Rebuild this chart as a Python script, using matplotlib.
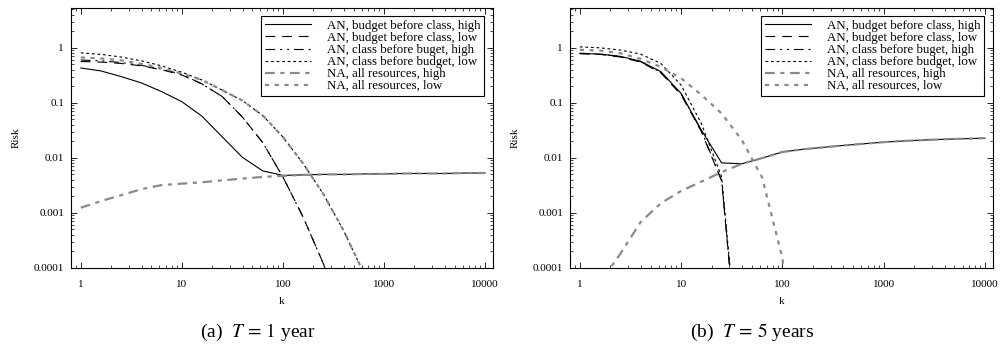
import matplotlib
matplotlib.use("Agg")
import matplotlib.pyplot as plt
import numpy as np

plt.rcParams['font.family'] = ['Liberation Serif', 'DejaVu Serif']
plt.rcParams['mathtext.fontset'] = 'stix'
plt.rcParams['lines.scale_dashes'] = False

nan = np.nan

# sample points (5 per decade)
k = [1, 1.585, 2.512, 3.981, 6.31, 10, 15.85, 25.12, 39.81, 63.1, 100,
     158.5, 251.2, 398.1, 631, 1000, 1585, 2512, 3981, 6310, 10000]

labels = ["AN, budget before class, high", "AN, budget before class, low",
          "AN, class before buget, high", "AN, class before budget, low",
          "NA, all resources, high", "NA, all resources, low"]

# (a) T = 1 year
a_budget_high = [0.43, 0.38, 0.30, 0.23, 0.16, 0.105, 0.057, 0.024, 0.0102, 0.0058, 0.0048,
                 0.0049, 0.0050, 0.0050, 0.0051, 0.0051, 0.0052, 0.0052, 0.0052, 0.0053, 0.0053]
a_budget_low = [0.565, 0.55, 0.52, 0.47, 0.40, 0.32, 0.22, 0.13, 0.055, 0.019, 0.0045,
                0.00084, 0.00012, 0.00001, nan, nan, nan, nan, nan, nan, nan]
a_class_high = [0.60, 0.58, 0.54, 0.48, 0.41, 0.33, 0.22, 0.13, 0.055, 0.019, 0.0045,
                0.00084, 0.00012, 0.00001, nan, nan, nan, nan, nan, nan, nan]
a_class_low = [0.81, 0.76, 0.68, 0.58, 0.47, 0.36, 0.26, 0.17, 0.11, 0.059, 0.024,
               0.0079, 0.0022, 0.00048, 0.00008, nan, nan, nan, nan, nan, nan]
a_na_high = [0.00124, 0.00164, 0.0021, 0.0027, 0.0032, 0.0034, 0.0036, 0.0039, 0.0042, 0.0045, 0.0047,
             0.0049, 0.0050, 0.0050, 0.0051, 0.0051, 0.0052, 0.0052, 0.0052, 0.0053, 0.0053]
a_na_low = [0.67, 0.64, 0.59, 0.51, 0.43, 0.34, 0.26, 0.17, 0.11, 0.059, 0.024,
            0.0079, 0.0022, 0.00048, 0.00008, nan, nan, nan, nan, nan, nan]

# (b) T = 5 years
b_budget_high = [0.79, 0.77, 0.70, 0.57, 0.37, 0.148, 0.032, 0.0081, 0.0078, 0.0099, 0.0128,
                 0.0143, 0.0155, 0.0168, 0.018, 0.0193, 0.0203, 0.0211, 0.0218, 0.0223, 0.0228]
b_budget_low = [0.78, 0.76, 0.68, 0.55, 0.35, 0.14, 0.030, 0.0038, 4e-7,
                nan, nan, nan, nan, nan, nan, nan, nan, nan, nan, nan, nan]
b_class_high = [0.80, 0.77, 0.69, 0.56, 0.36, 0.145, 0.031, 0.0039, 4e-7,
                nan, nan, nan, nan, nan, nan, nan, nan, nan, nan, nan, nan]
b_class_low = [1.04, 1.0, 0.91, 0.77, 0.52, 0.21, 0.042, 0.0045, 5e-7,
               nan, nan, nan, nan, nan, nan, nan, nan, nan, nan, nan, nan]
b_na_high = [1e-5, 5.5e-5, 0.00018, 0.00068, 0.0015, 0.0025, 0.0037, 0.0055, 0.0078, 0.0099, 0.0128,
             0.0143, 0.0155, 0.0168, 0.018, 0.0193, 0.0203, 0.0211, 0.0218, 0.0223, 0.0228]
b_na_low = [0.92, 0.89, 0.80, 0.63, 0.45, 0.28, 0.14, 0.064, 0.021, 0.0044, 0.00015, 1e-7,
            nan, nan, nan, nan, nan, nan, nan, nan, nan]

xticks = [1, 10, 100, 1000, 10000]
xticklabels = ["1", "10", "100", "1000", "10000"]
yticks = [0.0001, 0.001, 0.01, 0.1, 1]
yticklabels = ["0.0001", "0.001", "0.01", "0.1", "1"]

gray = "#8a8a8a"
styles = [
    dict(color="black", lw=0.8, linestyle="-"),
    dict(color="black", lw=0.8, linestyle=(0, (7, 5))),
    dict(color="black", lw=0.8, linestyle=(0, (7, 3.5, 1.5, 3.5, 1.5, 3.5))),
    dict(color="black", lw=0.8, linestyle=(0, (2, 2))),
    dict(color=gray, lw=1.6, linestyle=(0, (7, 4, 3, 4))),
    dict(color=gray, lw=1.6, linestyle=(0, (3, 4))),
]

fig = plt.figure(figsize=(10, 3.47), dpi=100)
ax1 = fig.add_axes([0.071, 0.228, 0.422, 0.749])
ax2 = fig.add_axes([0.570, 0.228, 0.423, 0.749])

panels = [
    (ax1, [a_budget_high, a_budget_low, a_class_high, a_class_low, a_na_high, a_na_low]),
    (ax2, [b_budget_high, b_budget_low, b_class_high, b_class_low, b_na_high, b_na_low]),
]

for ax, series in panels:
    for y, lab, st in zip(series, labels, styles):
        ax.plot(k, y, label=lab, **st)
    ax.set_xscale("log")
    ax.set_yscale("log")
    ax.set_xlim(0.8, 12000)
    ax.set_ylim(1e-4, 5.3)
    ax.set_xticks(xticks)
    ax.set_xticklabels(xticklabels)
    ax.set_yticks(yticks)
    ax.set_yticklabels(yticklabels)
    ax.tick_params(which="both", direction="in", top=True, right=True, labelsize=8)
    ax.tick_params(which="major", length=4, width=0.6)
    ax.tick_params(which="minor", length=2, width=0.5)
    ax.tick_params(axis="x", pad=8.5)
    ax.tick_params(axis="y", pad=5)
    for sp in ax.spines.values():
        sp.set_linewidth(0.8)
    ax.set_xlabel("k", fontsize=8, labelpad=6)
    ax.set_ylabel("Risk", fontsize=8, labelpad=9)
    leg = ax.legend(loc="upper right", bbox_to_anchor=(0.979, 0.969), fontsize=9.3,
                    handlelength=3.6, handletextpad=1.2, labelspacing=0.0,
                    borderpad=0.3, borderaxespad=0, fancybox=False, framealpha=1)
    leg.get_frame().set_edgecolor("black")
    leg.get_frame().set_linewidth(0.8)

fig.text(0.258, 0.043, r"(a)  $T\,=\,1$ year", ha="center", va="center", fontsize=14)
fig.text(0.752, 0.043, r"(b)  $T\,=\,5$ years", ha="center", va="center", fontsize=14)

fig.savefig("out.png", dpi=100)
